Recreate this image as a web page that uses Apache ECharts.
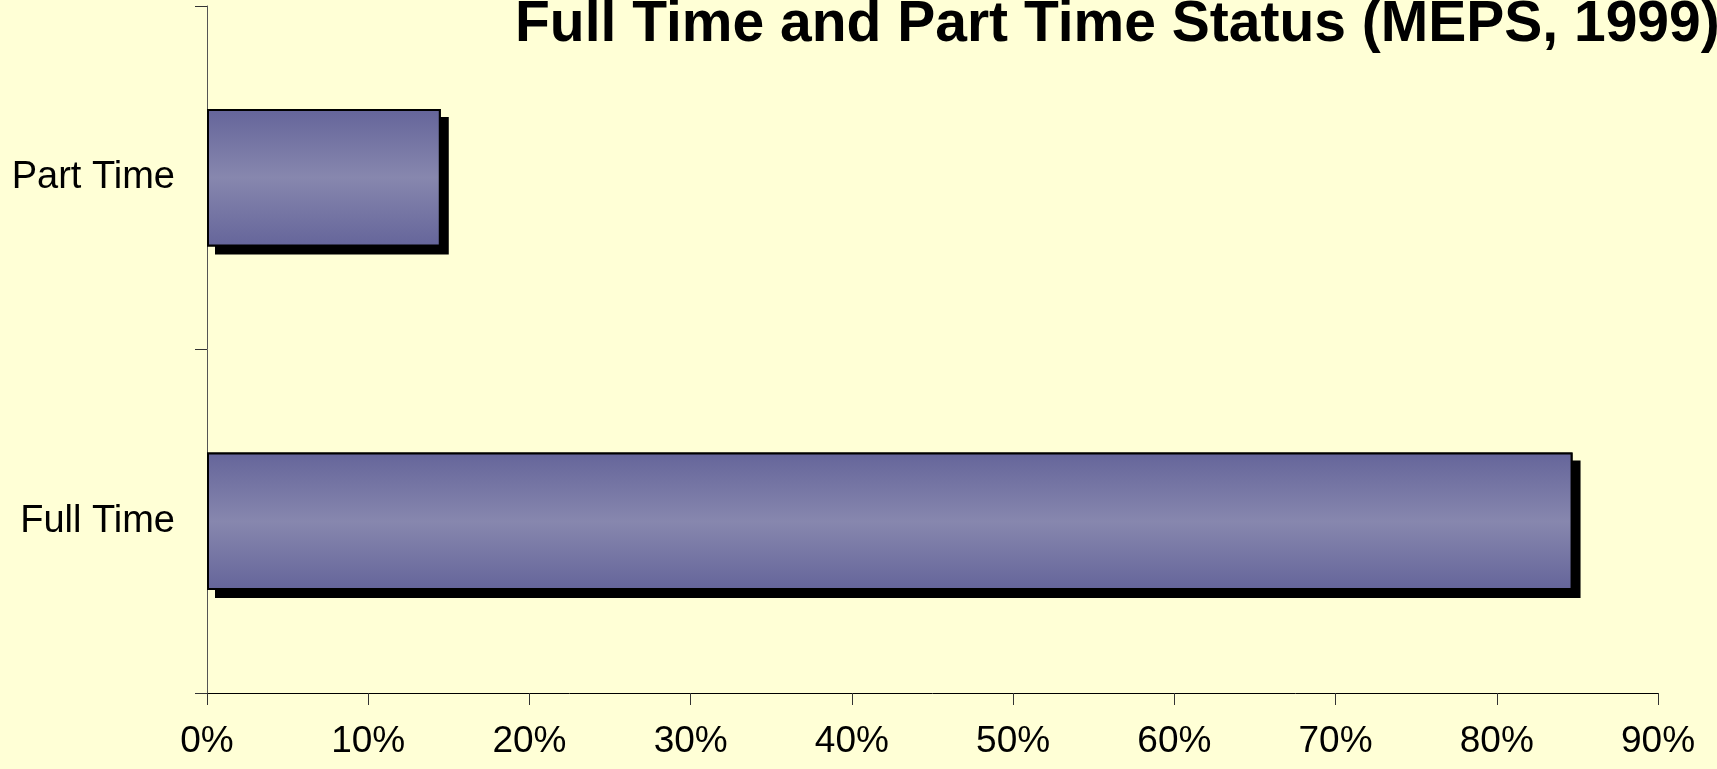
<!DOCTYPE html>
<html>
<head>
<meta charset="utf-8">
<script src="https://cdn.jsdelivr.net/npm/echarts@6/dist/echarts.min.js"></script>
<style>
  html, body { margin: 0; padding: 0; background: #ffffd6; }
  #chart { width: 1717px; height: 769px; }
</style>
</head>
<body>
<div id="chart"></div>
<script>
const title = 'Full Time and Part Time Status (MEPS, 1999)'
const categories = ['Full Time', 'Part Time']
const shares = [84.7, 14.5]
const xTicks = [0, 10, 20, 30, 40, 50, 60, 70, 80, 90]

const chart = echarts.init(document.getElementById('chart'))

const barFill = new echarts.graphic.LinearGradient(0, 0, 0, 1, [
  { offset: 0, color: '#65659a' },
  { offset: 0.5, color: '#8787ae' },
  { offset: 1, color: '#65659a' },
])

chart.setOption({
  backgroundColor: '#ffffd6',
  animation: false,
  title: {
    text: title,
    left: 510,
    top: -8,
    textStyle: { fontFamily: 'Liberation Sans', fontWeight: 'bold', fontSize: 57, color: '#000' },
  },
  grid: { left: 207, right: 59, top: 6, bottom: 76, containLabel: false },
  xAxis: {
    type: 'value',
    min: xTicks[0],
    max: xTicks[xTicks.length - 1],
    interval: 10,
    axisLine: { show: true, lineStyle: { color: '#000', width: 1 } },
    axisTick: { show: true, inside: false, length: 12, lineStyle: { color: '#333' } },
    splitLine: { show: false },
    axisLabel: {
      formatter: '{value}%',
      margin: 30,
      fontFamily: 'Liberation Sans',
      fontSize: 37,
      color: '#000',
    },
  },
  yAxis: {
    type: 'category',
    data: categories,
    axisLine: { show: true, lineStyle: { color: '#555', width: 1 } },
    axisTick: { show: true, inside: false, length: 12, lineStyle: { color: '#333' } },
    axisLabel: { margin: 32, fontFamily: 'Liberation Sans', fontSize: 38, color: '#000' },
  },
  series: [
    // black drop shadow, hidden under the coloured bar except the offset edge
    {
      type: 'bar',
      data: shares,
      barWidth: '40%',
      silent: true,
      itemStyle: {
        color: '#000',
        shadowColor: '#000',
        shadowBlur: 0,
        shadowOffsetX: 8,
        shadowOffsetY: 8,
      },
    },
    {
      type: 'bar',
      data: shares,
      barWidth: '40%',
      barGap: '-100%',
      itemStyle: {
        color: barFill,
        borderColor: '#000',
        borderWidth: 2,
      },
    },
  ],
})

window.addEventListener('resize', () => chart.resize())
</script>
</body>
</html>
